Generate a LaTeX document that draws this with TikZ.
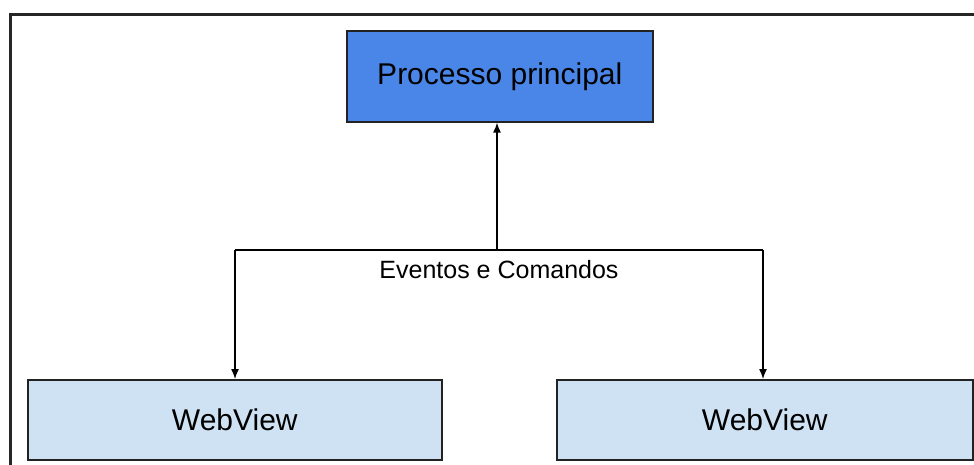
\documentclass[tikz,border=0pt]{standalone}
\usepackage{fontspec}
\setmainfont{Liberation Sans}
\usetikzlibrary{arrows.meta}
\definecolor{mainblue}{HTML}{4A86E8}
\definecolor{lightblue}{HTML}{CFE2F3}
\definecolor{edge}{HTML}{222222}
\begin{document}
\begin{tikzpicture}[x=1pt,y=-1pt,
  box/.style={draw=edge,line width=1.6pt,inner sep=0pt,anchor=north west},
  conn/.style={draw=black,line width=1.3pt,-{Latex[length=10pt,width=8pt]}},
  wire/.style={draw=black,line width=1.3pt},
  frame/.style={draw=black!85,line width=3pt}
]
\useasboundingbox (0,0) rectangle (974,465);
\fill[white] (0,0) rectangle (974,465);
% outer frame (partly outside the picture)
\coordinate (fbl) at (10,470);
\coordinate (ftl) at (10,15);
\coordinate (ftr) at (990,15);
\draw[frame] (fbl) -- (ftl) -- (ftr);
% nodes
\node[box,fill=mainblue,minimum width=306pt,minimum height=91pt,font=\fontsize{30}{36}\selectfont] (main) at (346,30) {Processo principal};
\node[box,fill=lightblue,minimum width=414pt,minimum height=80pt,font=\fontsize{30}{36}\selectfont] (wv1) at (27,379) {WebView};
\node[box,fill=lightblue,minimum width=416pt,minimum height=80pt,font=\fontsize{30}{36}\selectfont] (wv2) at (556,379) {WebView};
% junction points
\coordinate (jc) at (497,250);
\coordinate (jl) at (235,250);
\coordinate (jr) at (763,250);
\draw[wire] (jl) -- (jr);
\draw[conn] (jc) -- (jc |- main.south);
\draw[conn] (jl) -- (jl |- wv1.north);
\draw[conn] (jr) -- (jr |- wv2.north);
\node[font=\fontsize{25}{30}\selectfont,anchor=center] (lbl) at (499,270) {Eventos e Comandos};
\end{tikzpicture}
\end{document}
